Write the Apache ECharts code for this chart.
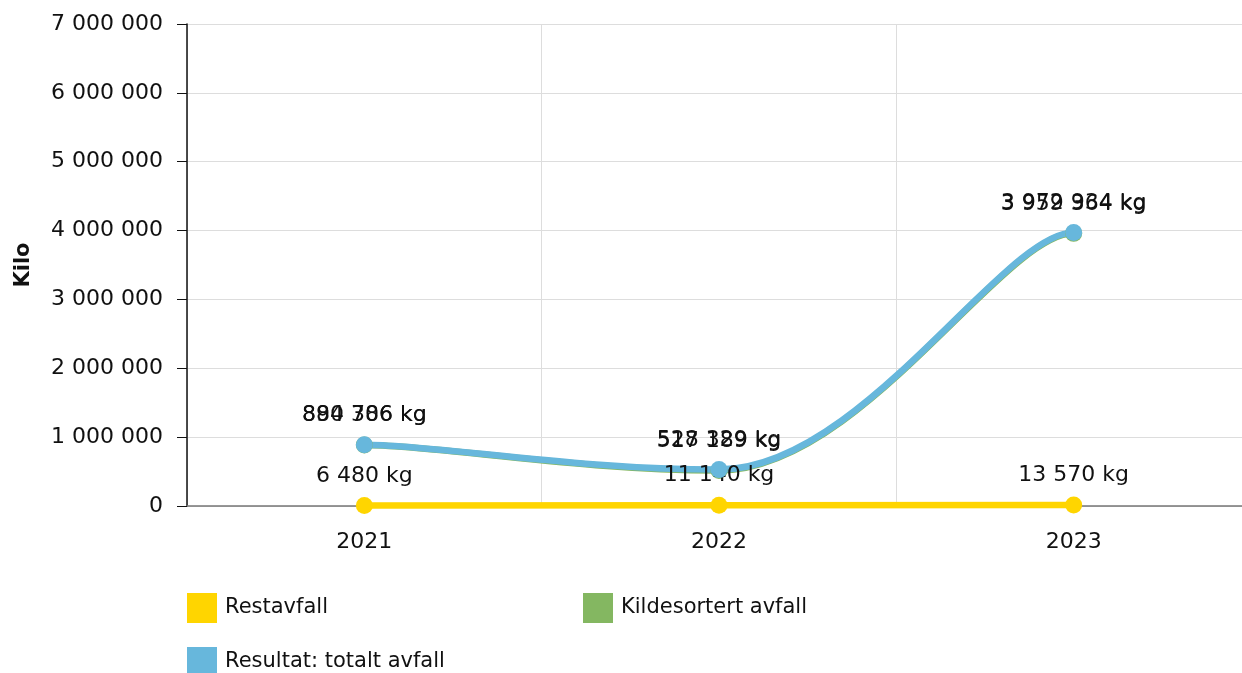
<!DOCTYPE html>
<html><head><meta charset="utf-8">
<script src="https://cdn.jsdelivr.net/npm/echarts@6/dist/echarts.min.js"></script>
<style>html,body{margin:0;padding:0;background:#fff;overflow:hidden}#c{width:1251px;height:673px}</style>
</head><body><div id="c"></div>
<script>
const categories = ['2021', '2022', '2023'];
const restavfall = [6480, 11140, 13570];
const kildesortert = [884306, 517189, 3959364];
const totalt = [890786, 528329, 3972934];
const yTicks = [0, 1000000, 2000000, 3000000, 4000000, 5000000, 6000000, 7000000];

const FONT = 'DejaVu Sans';
const FS = 22;
const COLORS = { rest: '#FFD500', kilde: '#84B761', total: '#67B7DC' };
function fmt(v) { return String(Math.round(v)).replace(/\B(?=(\d{3})+(?!\d))/g, ' '); }
const lbl = { show: true, position: 'top', distance: 10, fontFamily: FONT, fontSize: FS, color: '#111',
  formatter: p => fmt(p.value) + ' kg' };
const legText = { fontFamily: FONT, fontSize: 21, color: '#111', padding: [0, 0, 0, 3] };

// smoothed curve (horizontal tangents, x-tension) drawn through the axis scales
function curveSeries(values, color, z) {
  return {
    type: 'custom', silent: true, z: z, clip: false,
    data: values.map((v, i) => [i, v]),
    renderItem: function (params, api) {
      const i = params.dataIndexInside, n = params.dataInsideLength;
      if (i >= n - 1) return null;
      const pt = j => api.coord([api.value(0, j), api.value(1, j)]);
      const p1 = pt(i), p2 = pt(i + 1);
      const p0 = i > 0 ? pt(i - 1) : p1;
      const p3 = i + 2 < n ? pt(i + 2) : p2;
      const t = 0.2;
      return {
        type: 'bezierCurve',
        shape: { x1: p1[0], y1: p1[1], x2: p2[0], y2: p2[1],
          cpx1: p1[0] + t * (p2[0] - p0[0]), cpy1: p1[1],
          cpx2: p2[0] - t * (p3[0] - p1[0]), cpy2: p2[1] },
        style: { stroke: color, lineWidth: 6.5, fill: null, lineCap: 'round' }
      };
    }
  };
}

const chart = echarts.init(document.getElementById('c'), null, { renderer: 'canvas' });
chart.setOption({
  animation: false,
  textStyle: { fontFamily: FONT },
  grid: { left: 187, right: 0, top: 24, height: 482, containLabel: false },
  xAxis: {
    type: 'category', data: categories, boundaryGap: true,
    axisLine: { lineStyle: { color: '#777', width: 1.5 } },
    axisTick: { show: false },
    splitLine: { show: true, lineStyle: { color: '#ddd' } },
    axisLabel: { fontFamily: FONT, fontSize: FS, color: '#111', margin: 25 }
  },
  yAxis: {
    type: 'value', min: yTicks[0], max: yTicks[yTicks.length - 1], interval: yTicks[1] - yTicks[0],
    name: 'Kilo', nameLocation: 'middle', nameGap: 153, nameRotate: 90,
    nameTextStyle: { fontFamily: FONT, fontSize: 21, fontWeight: 'bold', color: '#111' },
    axisLine: { show: true, lineStyle: { color: '#111', width: 1.5 } },
    axisTick: { show: true, length: 10, lineStyle: { color: '#111' } },
    splitLine: { lineStyle: { color: '#ddd' } },
    axisLabel: { fontFamily: FONT, fontSize: FS, color: '#111', margin: 24, formatter: v => fmt(v) }
  },
  legend: [
    { data: ['Restavfall'], left: 187, top: 593, padding: 0, icon: 'rect', itemWidth: 30, itemHeight: 30, textStyle: legText },
    { data: ['Kildesortert avfall'], left: 583, top: 593, padding: 0, icon: 'rect', itemWidth: 30, itemHeight: 30, textStyle: legText },
    { data: ['Resultat: totalt avfall'], left: 187, top: 647, padding: 0, icon: 'rect', itemWidth: 30, itemHeight: 30, textStyle: legText }
  ],
  series: [
    curveSeries(kildesortert, COLORS.kilde, 2),
    curveSeries(restavfall, COLORS.rest, 2),
    curveSeries(totalt, COLORS.total, 2),
    { name: 'Restavfall', type: 'line', data: restavfall, color: COLORS.rest,
      lineStyle: { width: 0, opacity: 0 }, symbol: 'circle', symbolSize: 17, label: lbl, z: 5 },
    { name: 'Kildesortert avfall', type: 'line', data: kildesortert, color: COLORS.kilde,
      lineStyle: { width: 0, opacity: 0 }, symbol: 'circle', symbolSize: 17, label: lbl, z: 4 },
    { name: 'Resultat: totalt avfall', type: 'line', data: totalt, color: COLORS.total,
      lineStyle: { width: 0, opacity: 0 }, symbol: 'circle', symbolSize: 17, label: lbl, z: 6 }
  ]
});
</script></body></html>
